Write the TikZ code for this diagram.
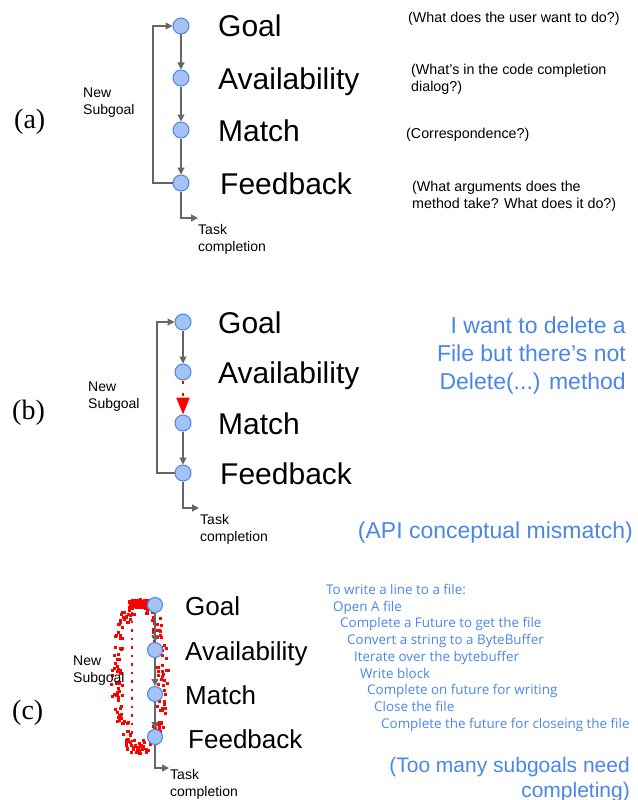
\documentclass[tikz,border=0pt]{standalone}
\usepackage{fontspec}
\setmainfont{Liberation Sans}
\newfontfamily\serifx{Liberation Serif}
\newfontfamily\robo{Open Sans}
\usetikzlibrary{arrows.meta}
\definecolor{dotfill}{HTML}{A4C2F4}
\definecolor{dotline}{HTML}{4A86E8}
\definecolor{arrgray}{HTML}{666666}
\definecolor{bluetxt}{HTML}{4A86E8}
\tikzset{
  dotn/.style={circle,fill=dotfill,draw=dotline,line width=1pt,minimum size=16pt,inner sep=0pt},
  dotc/.style={dotn,minimum size=15pt},
  garr/.style={draw=arrgray,line width=1.2pt,-{Triangle[length=7pt,width=7pt]},color=arrgray},
  bigl/.style={anchor=base west,inner sep=0pt,font=\fontsize{30}{32}\selectfont},
  midl/.style={anchor=base west,inner sep=0pt,font=\fontsize{26}{28}\selectfont},
  smallt/.style={anchor=base west,inner sep=0pt,align=left,font=\fontsize{14.3}{17}\selectfont},
  tiny/.style={anchor=base west,inner sep=0pt,align=left,font=\fontsize{14}{17}\selectfont},
  plab/.style={anchor=base west,inner sep=0pt,font=\serifx\fontsize{28}{30}\selectfont},
  bluet/.style={inner sep=0pt,text=bluetxt,font=\fontsize{23}{28}\selectfont},
  listt/.style={anchor=base west,inner sep=0pt,text=bluetxt,font=\robo\fontsize{13.4}{15}\selectfont},
  rdot/.style={fill=red},
}
\begin{document}
\begin{tikzpicture}[x=1pt,y=-1pt]
\useasboundingbox (0,0) rectangle (637,800);
% ---------------- (a)
\node[plab] (la) at (14,128) {(a)};
\node[dotn] (g1) at (181,26) {};
\node[dotn] (a1) at (181,78) {};
\node[dotn] (m1) at (181,130) {};
\node[dotn] (f1) at (181,183) {};
\draw[garr] (g1) -- (a1);
\draw[garr] (a1) -- (m1);
\draw[garr] (m1) -- (f1);
\coordinate (lx1) at (153,104);
\draw[garr] (f1.west) -| (lx1) |- (g1.west);
\coordinate (t1) at (198,218);
\draw[garr] (f1.south) |- (t1);
\node[bigl] (G1) at (218,37) {Goal};
\node[bigl] (A1) at (218,89) {Availability};
\node[bigl] (M1) at (218,141) {Match};
\node[bigl] (F1) at (220,194) {Feedback};
\node[tiny] (ns1) at (83,114) {New\\Subgoal};
\node[tiny] (tc1) at (198,251) {Task\\completion};
\node[smallt] (q1) at (408,23) {(What does the user want to do?)};
\node[smallt] (q2) at (411,91) {(What’s in the code completion\\dialog?)};
\node[smallt] (q3) at (406,138) {(Correspondence?)};
\node[smallt] (q4) at (412,208) {(What arguments does the\\method take? What does it do?)};
% ---------------- (b)
\node[plab] (lb) at (12,419) {(b)};
\node[dotn] (g2) at (183,322) {};
\node[dotn] (a2) at (183,372) {};
\node[dotn] (m2) at (183,423) {};
\node[dotn] (f2) at (183,473) {};
\draw[garr] (g2) -- (a2);
\draw[red,line width=2.2pt,dash pattern=on 3pt off 9pt,-{Triangle[length=17pt,width=13pt]}] (a2) -- (m2);
\draw[garr] (m2) -- (f2);
\coordinate (lx2) at (157,400);
\draw[garr] (f2.west) -| (lx2) |- (g2.west);
\coordinate (t2) at (199,508);
\draw[garr] (f2.south) |- (t2);
\node[bigl] (G2) at (218,333) {Goal};
\node[bigl] (A2) at (218,383) {Availability};
\node[bigl] (M2) at (218,434) {Match};
\node[bigl] (F2) at (220,484) {Feedback};
\node[tiny] (ns2) at (88,408) {New\\Subgoal};
\node[tiny] (tc2) at (200,541) {Task\\completion};
\node[bluet,anchor=base east,align=right] (bq1) at (626,389) {I want to delete a\\File but there’s not\\Delete(...) method};
\node[bluet,anchor=base east] (bq2) at (633,538) {(API conceptual mismatch)};
% ---------------- (c)
\node[plab] (lc) at (12,719) {(c)};
% red spray
\pgfmathsetseed{7}
\foreach \i in {1,...,260}{
  \pgfmathsetmacro{\tt}{360*rnd}
  \pgfmathsetmacro{\px}{140+23*cos(\tt)+6*rand}
  \pgfmathsetmacro{\py}{676+73*sin(\tt)+5*rand}
  \fill[rdot] (\px-1.5,\py-1.5) rectangle ++(3,3);
}
\foreach \i in {1,...,50}{
  \pgfmathsetmacro{\px}{139+10*rand}
  \pgfmathsetmacro{\py}{604+3.5*rand}
  \fill[rdot] (\px-1.5,\py-1.5) rectangle ++(3,3);
}
\coordinate (rd1) at (132,612);
\coordinate (rd2) at (132,742);
\draw[red,line width=2.5pt,dash pattern=on 2.5pt off 6pt] (rd1) -- (rd2);
\node[dotc] (g3) at (155,605) {};
\node[dotc] (a3) at (155,650) {};
\node[dotc] (m3) at (155,694) {};
\node[dotc] (f3) at (155,737) {};
\draw[garr] (g3) -- (a3);
\draw[garr] (a3) -- (m3);
\draw[garr] (m3) -- (f3);
\coordinate (t3) at (169,768);
\draw[garr] (f3.south) |- (t3);
\node[midl] (G3) at (185,615) {Goal};
\node[midl] (A3) at (185,660) {Availability};
\node[midl] (M3) at (185,704) {Match};
\node[midl] (F3) at (188,748) {Feedback};
\node[tiny] (ns3) at (73,682) {New\\Subgoal};
\node[tiny] (tc3) at (170,796) {Task\\completion};
\node[listt] (c1) at (326,594) {To write a line to a file:};
\node[listt] (c2) at (333,611) {Open A file};
\node[listt] (c3) at (340,627) {Complete a Future to get the file};
\node[listt] (c4) at (347,644) {Convert a string to a ByteBuffer};
\node[listt] (c5) at (354,661) {Iterate over the bytebuffer};
\node[listt] (c6) at (360,678) {Write block};
\node[listt] (c7) at (367,694) {Complete on future for writing};
\node[listt] (c8) at (374,711) {Close the file};
\node[listt] (c9) at (381,728) {Complete the future for closeing the file};
\node[bluet,anchor=base east,align=right,font=\fontsize{21}{25}\selectfont] (bq3) at (630,797) {(Too many subgoals need\\completing)};
\end{tikzpicture}
\end{document}
